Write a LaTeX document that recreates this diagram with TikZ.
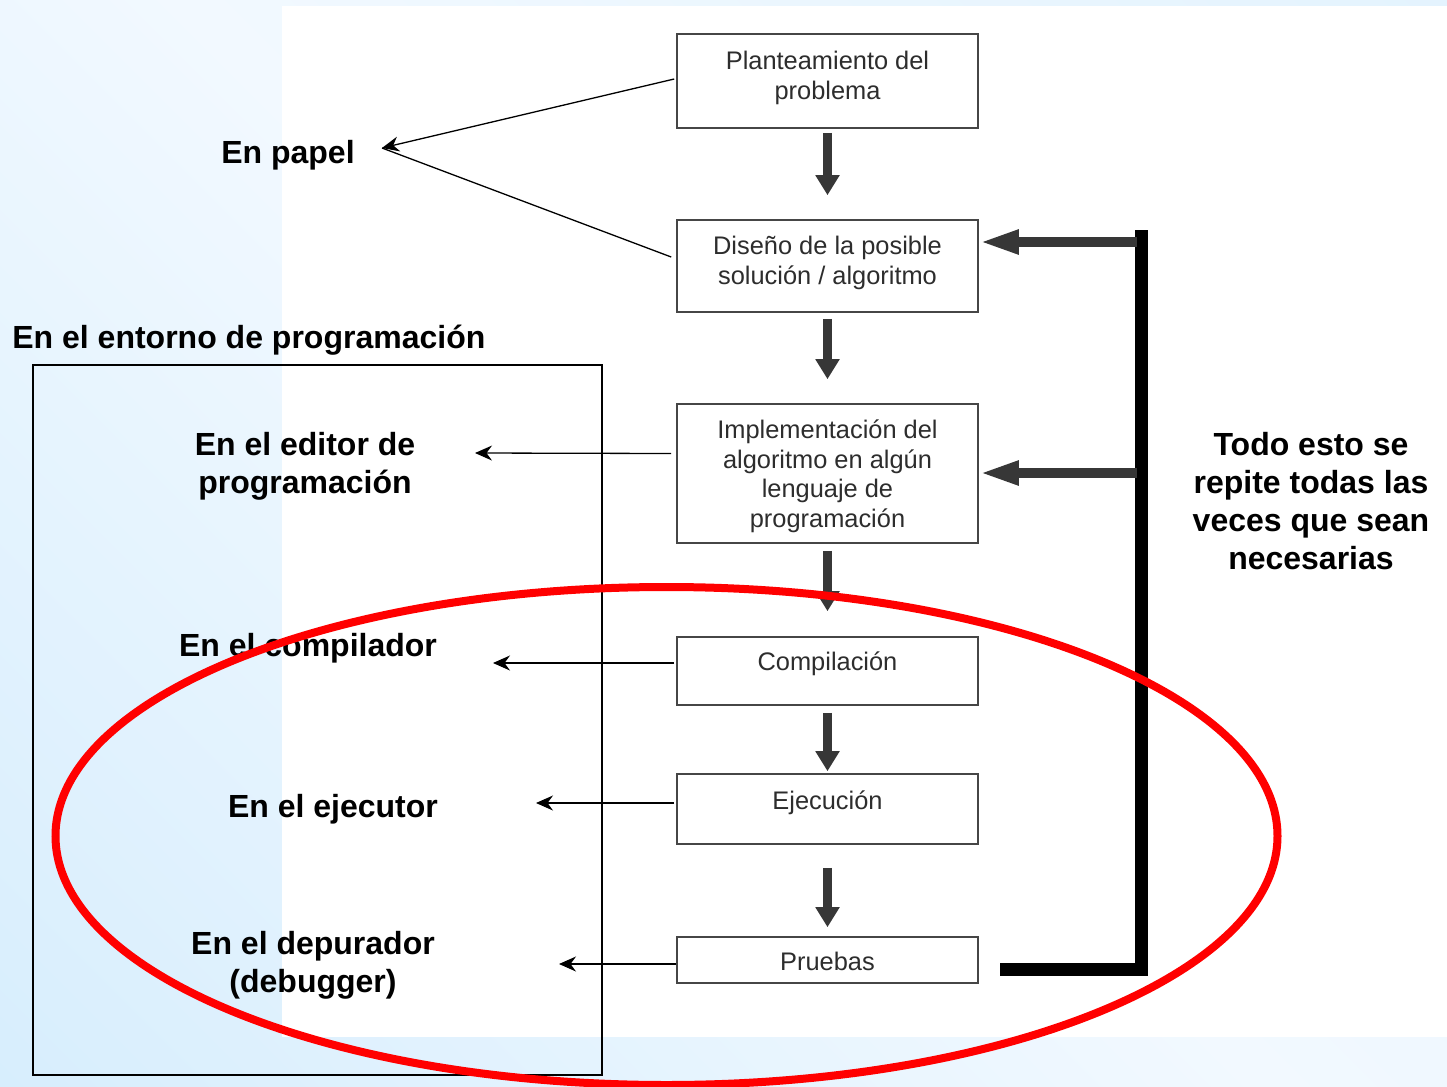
\documentclass[tikz,border=0pt]{standalone}
\usepackage{fontspec}
\setmainfont{Liberation Sans}
\usetikzlibrary{arrows.meta,calc}
\definecolor{bgdark}{RGB}{204,233,252}
\definecolor{bglight}{RGB}{242,249,255}
\definecolor{bgmid}{RGB}{222,241,253}
\definecolor{boxline}{RGB}{70,70,70}
\definecolor{boxtext}{RGB}{45,45,45}
\definecolor{fatgray}{RGB}{55,55,55}
% diagonal page shading: deeper blue in one corner, pale in the middle
\pgfdeclareverticalshading{sheetbg}{100bp}{color(0bp)=(bgdark); color(50bp)=(bglight); color(100bp)=(bgmid)}
\begin{document}
\begin{tikzpicture}[x=0.5pt,y=-0.5pt,
  stage/.style={draw=boxline, line width=0.8pt, minimum width=150.5pt, inner sep=0pt,
    align=center, text=boxtext, font=\fontsize{12.7}{14.8}\selectfont},
  lbl/.style={font=\bfseries\fontsize{16}{19}\selectfont, align=center, inner sep=0pt},
  downarrow/.style={draw=fatgray, line width=4.5pt, -{Triangle[width=11.5pt,length=10pt]}},
  backarrow/.style={draw=fatgray, line width=5pt, -{Triangle[width=11pt,length=20pt]}},
  loopline/.style={line width=6.5pt, black},
  pointer/.style={line width=0.65pt, -{Stealth[length=8.5pt,width=7.5pt]}},
  plainline/.style={line width=0.65pt},
]
\useasboundingbox (0,0) rectangle (1447,1087);

% page background and the white sheet of the flow chart
\shade[shading=sheetbg, shading angle=-45] (0,0) rectangle (1447,1087);
\fill[white] (282,6) rectangle (1447,1037);

% stages of the process
\node[stage, minimum height=47pt, text depth=5.7pt] (p1) at (827.5,81) {Planteamiento del\\problema};
\node[stage, minimum height=46pt, text depth=5.7pt] (p2) at (827.5,266) {Diseño de la posible\\solución / algoritmo};
\node[stage, minimum height=69.5pt, text depth=0pt] (p3) at (827.5,473.5) {Implementación del\\algoritmo en algún\\lenguaje de\\programación};
\node[stage, minimum height=34pt, text depth=9.5pt] (p4) at (827.5,671) {Compilación};
\node[stage, minimum height=35pt, text depth=8.5pt] (p5) at (827.5,809) {Ejecución};
\node[stage, minimum height=23pt, text height=13pt, text depth=2.7pt] (p6) at (827.5,960) {Pruebas};

% flow between stages
\draw[downarrow, shorten <=2pt, shorten >=12pt] (p1.south) -- (p2.north);
\draw[downarrow, shorten <=3pt, shorten >=12pt] (p2.south) -- (p3.north);
\draw[downarrow, shorten <=3.5pt, shorten >=12.5pt] (p3.south) -- (p4.north);
\draw[downarrow, shorten <=3.5pt, shorten >=1pt] (p4.south) -- (p5.north);
\draw[downarrow, shorten <=11.5pt, shorten >=4.5pt] (p5.south) -- (p6.north);

% feedback loop
\coordinate (loopStart) at (1000,969);
\coordinate (loopTop) at (1141,230);
\draw[loopline] (loopStart) -| (loopTop);
\coordinate (ret2) at (1137,242);
\coordinate (ret3) at (1137,473);
\draw[backarrow] (ret2) -- (ret2 -| p2.east);
\draw[backarrow] (ret3) -- (ret3 -| p3.east);

% where each stage happens
\node[lbl] (papel) at (288,155) {En papel};
\coordinate (papelTip) at (382,148);
\draw[plainline] ($(p2.west)+(-5,-9)$) -- (papelTip);
\draw[pointer] ($(p1.west)+(-2,-2)$) -- (papelTip);

\node[lbl, anchor=west] (envtitle) at (12,340) {En el entorno de programación};
\node[draw, line width=1pt, minimum width=284.5pt, minimum height=355pt, inner sep=0pt] (envbox) at (317.5,720) {};

\node[lbl] (editor) at (305,466) {En el editor de\\programación};
\coordinate (editorTip) at (475,453);
\draw[pointer] ($(p3.west)+(-5,-20)$) -- (editorTip);

\node[lbl] (compilador) at (308,648) {En el compilador};
\coordinate (compTip) at (493,663);
\draw[pointer] ($(p4.west)+(-2,-8)$) -- (compTip);

\node[lbl] (ejecutor) at (333,809) {En el ejecutor};
\coordinate (ejecTip) at (536,803);
\draw[pointer] ($(p5.west)+(-2,-6)$) -- (ejecTip);

\node[lbl] (depurador) at (313,965) {En el depurador\\(debugger)};
\coordinate (depTip) at (559,964);
\draw[pointer] ($(p6.west)+(0,4)$) -- (depTip);

\node[lbl] (todo) at (1311,501) {Todo esto se\\repite todas las\\veces que sean\\necesarias};

% highlight around the tool-supported stages
\draw[red, line width=4pt] (666.5,836) ellipse [x radius=611, y radius=249];
\end{tikzpicture}
\end{document}
